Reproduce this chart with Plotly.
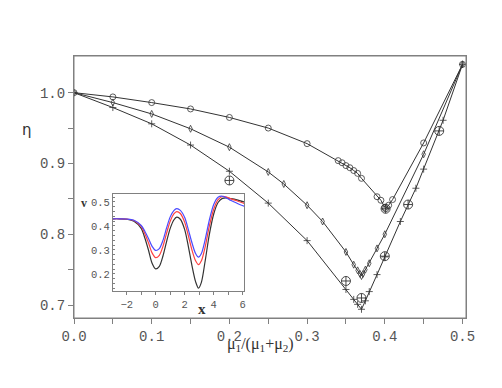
import plotly.graph_objects as go

# ---- main chart data (eta vs mu1/(mu1+mu2)) ----
top_x = [0.0, 0.05, 0.10, 0.15, 0.20, 0.25, 0.30, 0.34, 0.345, 0.35, 0.355, 0.36, 0.365, 0.37,
         0.39, 0.395, 0.40, 0.401, 0.405, 0.41, 0.45, 0.50]
top_y = [1.000, 0.994, 0.986, 0.977, 0.965, 0.950, 0.928, 0.904, 0.901, 0.897, 0.894, 0.890, 0.886, 0.879,
         0.853, 0.848, 0.838, 0.836, 0.841, 0.849, 0.929, 1.040]

mid_x = [0.0, 0.05, 0.10, 0.15, 0.20, 0.25, 0.27, 0.30, 0.32, 0.35, 0.36, 0.365, 0.368, 0.37,
         0.372, 0.375, 0.38, 0.39, 0.40, 0.45, 0.50]
mid_y = [1.000, 0.986, 0.970, 0.949, 0.923, 0.888, 0.871, 0.841, 0.818, 0.775, 0.757, 0.749, 0.744, 0.741,
         0.744, 0.750, 0.759, 0.780, 0.800, 0.913, 1.040]

bot_x = [0.0, 0.05, 0.10, 0.15, 0.20, 0.25, 0.30, 0.35, 0.36, 0.365, 0.37, 0.375, 0.38, 0.39,
         0.40, 0.42, 0.44, 0.45, 0.475, 0.50]
bot_y = [1.000, 0.979, 0.956, 0.926, 0.889, 0.844, 0.791, 0.722, 0.708, 0.701, 0.694, 0.706, 0.719, 0.743,
         0.768, 0.818, 0.865, 0.892, 0.961, 1.040]

sim_x = [0.20, 0.35, 0.37, 0.40, 0.401, 0.43, 0.47]
sim_y = [0.876, 0.734, 0.710, 0.769, 0.836, 0.842, 0.946]

x_tickvals = [0.0, 0.05, 0.1, 0.15, 0.2, 0.25, 0.3, 0.35, 0.4, 0.45, 0.5]
x_ticktext = ["0.0", "", "0.1", "", "0.2", "", "0.3", "", "0.4", "", "0.5"]
y_tickvals = [0.7, 0.75, 0.8, 0.85, 0.9, 0.95, 1.0]
y_ticktext = ["0.7", "", "0.8", "", "0.9", "", "1.0"]

# ---- inset data (v vs x) ----
ins_x = [-3.0, -2.5, -2.0, -1.5, -1.0, -0.75, -0.5, -0.25, 0.0, 0.25, 0.5, 0.75, 1.0, 1.25, 1.45,
         1.7, 2.0, 2.25, 2.5, 2.75, 2.95, 3.15, 3.4, 3.7, 4.0, 4.3, 4.6, 4.85, 5.2, 5.6, 6.1]
v_black = [0.430, 0.430, 0.428, 0.420, 0.390, 0.350, 0.300, 0.245, 0.221, 0.232, 0.275, 0.335, 0.390,
           0.425, 0.437, 0.428, 0.385, 0.315, 0.235, 0.168, 0.141, 0.165, 0.250, 0.365, 0.450, 0.498,
           0.515, 0.517, 0.514, 0.509, 0.500]
v_red = [0.430, 0.430, 0.429, 0.423, 0.398, 0.368, 0.330, 0.288, 0.268, 0.278, 0.315, 0.370, 0.420,
         0.450, 0.460, 0.452, 0.415, 0.360, 0.300, 0.255, 0.239, 0.255, 0.310, 0.400, 0.470, 0.510,
         0.523, 0.521, 0.513, 0.505, 0.494]
v_blue = [0.430, 0.430, 0.429, 0.424, 0.402, 0.378, 0.348, 0.315, 0.298, 0.306, 0.340, 0.392, 0.438,
          0.464, 0.472, 0.465, 0.435, 0.385, 0.330, 0.285, 0.270, 0.285, 0.340, 0.425, 0.490, 0.520,
          0.524, 0.518, 0.506, 0.495, 0.482]
ins_xtickvals = [-2, -1, 0, 1, 2, 3, 4, 5, 6]
ins_xticktext = ["−2", "", "0", "", "2", "", "4", "", "6"]
ins_ytickvals = [0.14, 0.16, 0.18, 0.2, 0.22, 0.24, 0.26, 0.28, 0.3, 0.32, 0.34, 0.36, 0.38, 0.4,
                 0.42, 0.44, 0.46, 0.48, 0.5, 0.52]
ins_yticktext = ["", "", "", "0.2", "", "", "", "", "0.3", "", "", "", "", "0.4",
                 "", "", "", "", "0.5", ""]

LC = "#333333"
AX = "#808080"
TF = dict(family="Liberation Mono, Courier New, monospace", size=14, color="#555555")
TF2 = dict(family="Liberation Mono, Courier New, monospace", size=10.5, color="#555555")

fig = go.Figure()

def main_curve(xs, ys, sym, size):
    fig.add_trace(go.Scatter(x=xs, y=ys, mode="lines+markers", xaxis="x", yaxis="y",
                             line=dict(color=LC, width=1),
                             marker=dict(symbol=sym, size=size, color=LC, line=dict(color=LC, width=0.8)),
                             showlegend=False, hoverinfo="skip"))

main_curve(top_x, top_y, "circle-open", 6)
main_curve(mid_x, mid_y, "diamond-tall-open", 5)
main_curve(bot_x, bot_y, "cross-thin-open", 5)
fig.add_trace(go.Scatter(x=sim_x, y=sim_y, mode="markers", xaxis="x", yaxis="y",
                         marker=dict(symbol="circle-cross-open", size=9, color=LC, line=dict(color=LC, width=0.9)),
                         showlegend=False, hoverinfo="skip"))

for vals, col in [(v_black, "#333333"), (v_red, "#ff4040"), (v_blue, "#4a4aff")]:
    fig.add_trace(go.Scatter(x=ins_x, y=vals, mode="lines", xaxis="x2", yaxis="y2",
                             line=dict(color=col, width=1.2, shape="spline", smoothing=0.8),
                             showlegend=False, hoverinfo="skip"))

fig.update_layout(
    width=486, height=372,
    margin=dict(l=66, r=28, t=48, b=62, autoexpand=False),
    paper_bgcolor="white", plot_bgcolor="white",
    xaxis=dict(domain=[0, 1], range=[0, 0.5045], showgrid=False, zeroline=False,
               showline=True, linecolor=AX, linewidth=1, mirror=True,
               ticks="outside", ticklen=5, tickcolor=AX, tickwidth=1,
               tickmode="array", tickvals=x_tickvals, ticktext=x_ticktext, tickfont=TF),
    yaxis=dict(domain=[0, 1], range=[0.6817, 1.0518], showgrid=False, zeroline=False,
               showline=True, linecolor=AX, linewidth=1, mirror=True,
               ticks="outside", ticklen=5, tickcolor=AX, tickwidth=1,
               tickmode="array", tickvals=y_tickvals, ticktext=y_ticktext, tickfont=TF),
    xaxis2=dict(domain=[0.0995, 0.4337], anchor="y2", range=[-2.945, 6.09], showgrid=False, zeroline=False,
                showline=True, linecolor=AX, linewidth=1, mirror=True,
                ticks="outside", ticklen=3, tickcolor=AX,
                tickmode="array", tickvals=ins_xtickvals, ticktext=ins_xticktext, tickfont=TF2),
    yaxis2=dict(domain=[0.103, 0.473], anchor="x2", range=[0.129, 0.533], showgrid=False, zeroline=False,
                showline=True, linecolor=AX, linewidth=1, mirror=True,
                ticks="inside", ticklen=2, tickcolor=AX,
                tickmode="array", tickvals=ins_ytickvals, ticktext=ins_yticktext, tickfont=TF2),
)

# frame around the main plot area
fig.add_shape(type="rect", xref="paper", yref="paper", x0=0, x1=1, y0=0, y1=1,
              line=dict(color=AX, width=1), fillcolor="rgba(0,0,0,0)", layer="above")

ann_font_color = "#333333"
fig.add_annotation(text="η", xref="paper", yref="paper", x=-0.12, y=0.7176, showarrow=False,
                   xanchor="center", yanchor="middle",
                   font=dict(family="DejaVu Sans, sans-serif", size=15, color=ann_font_color))
fig.add_annotation(text="μ<sub>1</sub>/(μ<sub>1</sub>+μ<sub>2</sub>)", xref="paper", yref="paper",
                   x=0.4745, y=-0.10, showarrow=False, xanchor="center", yanchor="middle",
                   font=dict(family="Liberation Serif, Times New Roman, serif", size=16, color=ann_font_color))
fig.add_annotation(text="<b>v</b>", xref="paper", yref="paper", x=0.0255, y=0.439, showarrow=False,
                   xanchor="center", yanchor="middle",
                   font=dict(family="Liberation Serif, serif", size=12, color=ann_font_color))
fig.add_annotation(text="<b>x</b>", xref="paper", yref="paper", x=0.3258, y=0.035, showarrow=False,
                   xanchor="center", yanchor="middle",
                   font=dict(family="Liberation Serif, serif", size=15, color=ann_font_color))

fig.write_html("out.html")
